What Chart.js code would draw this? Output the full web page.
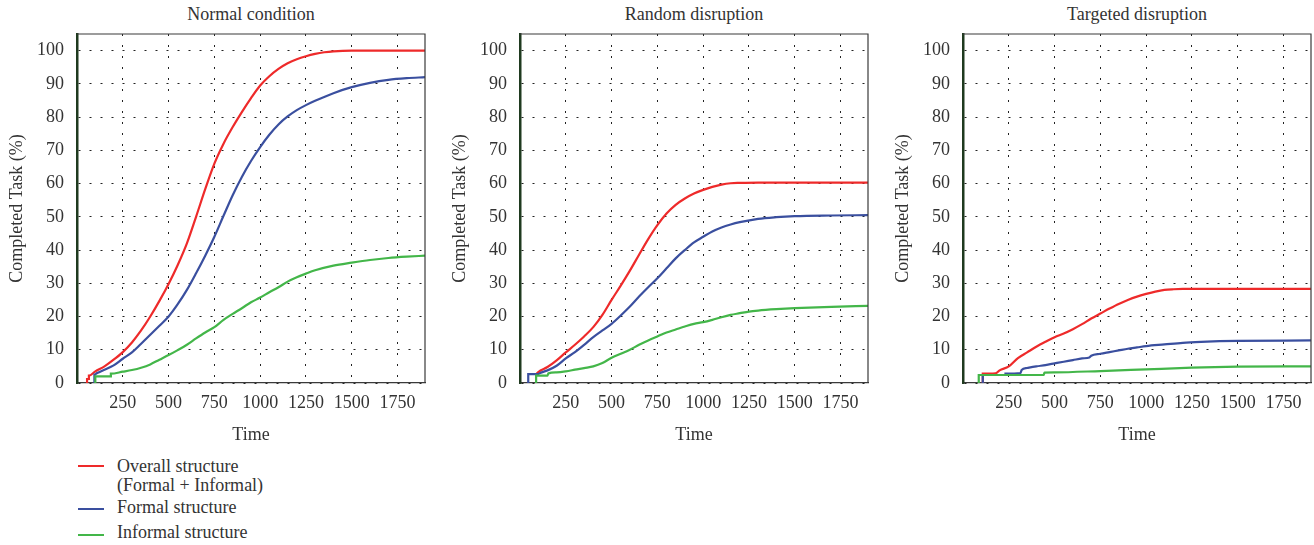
<!DOCTYPE html>
<html>
<head>
<meta charset="utf-8">
<script src="https://cdn.jsdelivr.net/npm/chart.js@4.4.1/dist/chart.umd.min.js"></script>
<style>
  body { margin: 0; background: #fff; width: 1314px; height: 545px; position: relative; overflow: hidden;
         font-family: 'Liberation Serif', serif; color: #333; }
  .panel { position: absolute; top: 0; height: 455px; }
  .ptitle { position: absolute; top: 4px; width: 300px; text-align: center; font-size: 18px; line-height: 21.6px; }
  .leg-line { position: absolute; left: 78px; width: 26px; height: 2px; }
  .leg-text { position: absolute; left: 117px; font-size: 18px; line-height: 19px; white-space: nowrap; }
</style>
</head>
<body>

<div class="ptitle" style="left:101px">Normal condition</div>
<div class="ptitle" style="left:544px">Random disruption</div>
<div class="ptitle" style="left:987px">Targeted disruption</div>

<div class="panel" style="left:0;width:443px"><canvas id="chNormal"></canvas></div>
<div class="panel" style="left:443px;width:443px"><canvas id="chRandom"></canvas></div>
<div class="panel" style="left:886px;width:428px"><canvas id="chTargeted"></canvas></div>

<div id="legend"></div>

<script>
/* ============================================================
   DATA  (time, % completed task)
   ============================================================ */

const titles = ['Normal condition', 'Random disruption', 'Targeted disruption'];
const seriesNames = ['Overall structure\n(Formal + Informal)', 'Formal structure', 'Informal structure'];
const seriesColors = ['#ee2a2a', '#3a4f9f', '#43b649'];
const yTicks = [0, 10, 20, 30, 40, 50, 60, 70, 80, 90, 100];
const xTicks = [250, 500, 750, 1000, 1250, 1500, 1750];

// Normal condition
const normalOverallT  = [55, 55, 65, 65, 100, 150, 200, 250, 300, 350, 400, 450, 500, 550, 600, 650, 700, 750, 800, 850, 900, 950, 1000, 1050, 1100, 1150, 1200, 1250, 1300, 1350, 1400, 1500, 1600, 1900];
const normalOverallY  = [0, 1.2, 1.2, 2.2, 3.5, 5, 7, 9.3, 12.2, 15.8, 20, 24.7, 29.8, 35.5, 42, 50, 58.3, 66, 72, 77, 81.5, 85.7, 89.5, 92.3, 94.5, 96.2, 97.4, 98.3, 99, 99.5, 99.8, 100, 100, 100];
const normalFormalT   = [95, 95, 110, 150, 200, 250, 300, 350, 400, 450, 500, 550, 600, 650, 700, 750, 800, 850, 900, 950, 1000, 1050, 1100, 1150, 1200, 1250, 1300, 1400, 1500, 1600, 1700, 1800, 1900];
const normalFormalY   = [0, 2.5, 3, 4, 5.3, 7.3, 9.2, 11.8, 14.5, 17.2, 20, 23.7, 28, 33, 38.3, 44, 50.3, 56.5, 62, 66.8, 71, 74.7, 77.8, 80.2, 82.1, 83.6, 84.9, 87.2, 89, 90.3, 91.2, 91.7, 92];
const normalInformalT = [100, 100, 185, 185, 250, 300, 350, 400, 450, 500, 550, 600, 650, 700, 750, 800, 850, 900, 950, 1000, 1050, 1100, 1150, 1200, 1250, 1300, 1400, 1500, 1600, 1700, 1800, 1900];
const normalInformalY = [0, 2, 2, 2.8, 3.4, 3.9, 4.6, 5.6, 7, 8.4, 9.9, 11.5, 13.4, 15.2, 16.8, 19, 20.8, 22.5, 24.3, 25.7, 27.3, 28.8, 30.5, 31.8, 32.9, 33.9, 35.3, 36.2, 37, 37.6, 38, 38.3];

// Random disruption
const randomOverallT  = [95, 95, 100, 150, 200, 250, 300, 350, 400, 450, 500, 550, 600, 650, 700, 750, 800, 850, 900, 950, 1000, 1050, 1100, 1150, 1200, 1300, 1900];
const randomOverallY  = [2.7, 3, 3.3, 4.8, 6.8, 9.2, 11.5, 14, 16.8, 20.5, 25, 29.3, 33.8, 38.6, 43.3, 47.5, 51, 53.6, 55.5, 57, 58.1, 59, 59.7, 60.1, 60.2, 60.3, 60.3];
const randomFormalT   = [45, 45, 100, 110, 150, 200, 250, 300, 350, 400, 450, 500, 550, 600, 650, 700, 750, 800, 850, 900, 950, 1000, 1050, 1100, 1150, 1200, 1300, 1400, 1500, 1700, 1900];
const randomFormalY   = [0, 2.7, 2.7, 3, 3.8, 5.2, 7.4, 9.3, 11.5, 13.8, 15.8, 17.8, 20.3, 23, 26, 28.8, 31.5, 34.5, 37.5, 40, 42.3, 44, 45.6, 46.8, 47.7, 48.4, 49.4, 49.9, 50.2, 50.4, 50.5];
const randomInformalT = [88, 88, 150, 155, 200, 250, 300, 350, 400, 450, 500, 550, 600, 650, 700, 750, 800, 850, 900, 950, 1000, 1050, 1100, 1150, 1200, 1250, 1300, 1400, 1500, 1700, 1900];
const randomInformalY = [0, 2.2, 2.2, 2.9, 3.2, 3.5, 4, 4.5, 5, 6, 7.6, 8.8, 10, 11.5, 12.8, 14, 15.2, 16.1, 17, 17.8, 18.3, 19, 19.8, 20.5, 21, 21.5, 21.8, 22.2, 22.5, 22.9, 23.2];

// Targeted disruption
const targetOverallT  = [108, 108, 177, 200, 250, 300, 350, 400, 450, 500, 550, 600, 650, 700, 750, 800, 850, 900, 950, 1000, 1050, 1100, 1150, 1200, 1300, 1900];
const targetOverallY  = [0, 2.8, 2.9, 3.8, 5, 7.5, 9.2, 10.9, 12.4, 13.8, 14.9, 16.2, 17.7, 19.4, 20.9, 22.4, 23.8, 25, 26, 26.8, 27.5, 28, 28.2, 28.3, 28.3, 28.3];
const targetFormalT   = [108, 108, 232, 232, 314, 320, 350, 400, 450, 500, 550, 600, 650, 690, 700, 750, 800, 850, 900, 950, 1000, 1100, 1200, 1300, 1400, 1500, 1900];
const targetFormalY   = [0, 2.4, 2.4, 2.8, 3, 3.9, 4.5, 5, 5.4, 5.9, 6.4, 6.9, 7.4, 7.7, 8.2, 8.8, 9.3, 9.8, 10.3, 10.7, 11.1, 11.6, 12.1, 12.4, 12.6, 12.7, 12.8];
const targetInformalT = [86, 86, 440, 445, 500, 750, 1000, 1250, 1500, 1900];
const targetInformalY = [0, 2.4, 2.4, 3.1, 3.2, 3.6, 4.1, 4.6, 4.9, 5.0];

/* ============================================================
   HELPERS
   ============================================================ */

const FONT = "'Liberation Serif', serif";
const INK  = '#333333';

const pts = (T, Y) => T.map((t, i) => ({ x: t, y: Y[i] }));

// top + right edges of the plot box
const framePlugin = {
  id: 'frame',
  afterDraw(chart) {
    const { ctx, chartArea: a } = chart;
    ctx.save();
    ctx.strokeStyle = '#3a3a3a';
    ctx.lineWidth = 1.2;
    ctx.beginPath();
    ctx.moveTo(a.left, a.top); ctx.lineTo(a.right, a.top); ctx.lineTo(a.right, a.bottom);
    ctx.stroke();
    ctx.restore();
  },
};

function makePanel(id, series) {
  const ctx = document.getElementById(id);
  new Chart(ctx, {
    type: 'line',
    data: {
      datasets: series.map((s, i) => ({
        label: seriesNames[i],
        data: pts(s[0], s[1]),
        borderColor: seriesColors[i],
        backgroundColor: seriesColors[i],
        borderWidth: 2.2,
        pointRadius: 0,
        cubicInterpolationMode: 'monotone',
        order: i === 0 ? 2 : (i === 1 ? 1 : 0),
      })),
    },
    options: {
      responsive: true,
      maintainAspectRatio: false,
      animation: false,
      layout: { padding: { top: 34, right: id === 'chTargeted' ? 3 : 18, left: 0, bottom: 0 } },
      plugins: { legend: { display: false }, tooltip: { enabled: false }, title: { display: false } },
      scales: {
        x: {
          type: 'linear', min: 0, max: 1900,
          afterFit: s => { s.height = 72; },
          afterBuildTicks: s => { s.ticks = [0, ...xTicks].map(v => ({ value: v })); },
          ticks: { callback: v => (v === 0 ? '' : v), color: INK, padding: 9, maxRotation: 0, font: { family: FONT, size: 18 } },
          grid: { color: '#222', lineWidth: 1, drawTicks: false },
          border: { color: '#3a3a3a', width: 1.2, dash: [2, 9] },
          title: { display: true, text: 'Time', color: INK, padding: { top: 0, bottom: 9 }, font: { family: FONT, size: 18 } },
        },
        y: {
          min: 0, max: 105,
          afterFit: s => { s.width = 77; },
          afterBuildTicks: s => { s.ticks = yTicks.map(v => ({ value: v })); },
          ticks: { color: INK, padding: 13, font: { family: FONT, size: 18 } },
          grid: { color: '#222', lineWidth: 1, drawTicks: false },
          border: { color: '#1f3a1f', width: 2.5, dash: [2, 9] },
          title: { display: true, text: 'Completed Task (%)', color: INK, padding: { top: 6, bottom: 0 }, font: { family: FONT, size: 18 } },
        },
      },
    },
    plugins: [framePlugin],
  });
}

/* ============================================================
   PANELS
   ============================================================ */

makePanel('chNormal', [
  [normalOverallT, normalOverallY],
  [normalFormalT, normalFormalY],
  [normalInformalT, normalInformalY],
]);
makePanel('chRandom', [
  [randomOverallT, randomOverallY],
  [randomFormalT, randomFormalY],
  [randomInformalT, randomInformalY],
]);
makePanel('chTargeted', [
  [targetOverallT, targetOverallY],
  [targetFormalT, targetFormalY],
  [targetInformalT, targetInformalY],
]);

/* ============================================================
   LEGEND
   ============================================================ */

const legendTops = [457, 498, 523];
const legendLineTops = [465, 508, 534];
document.getElementById('legend').innerHTML = seriesNames.map((name, i) => `
  <div class="leg-line" style="top:${legendLineTops[i]}px;background:${seriesColors[i]}"></div>
  <div class="leg-text" style="top:${legendTops[i]}px">${name.replace('\n', '<br>')}</div>`).join('');
</script>
</body>
</html>
